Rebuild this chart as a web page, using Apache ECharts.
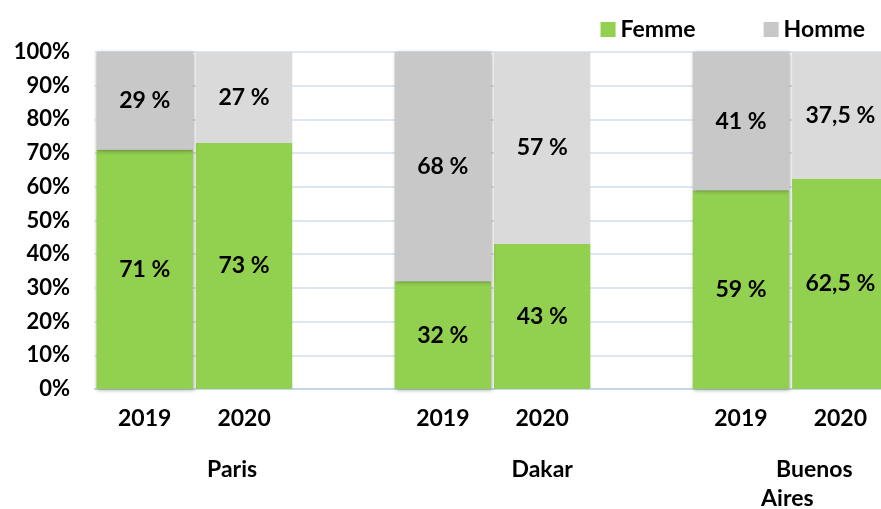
<!DOCTYPE html>
<html>
<head>
<meta charset="utf-8">
<script src="https://cdn.jsdelivr.net/npm/echarts@6/dist/echarts.min.js"></script>
<style>
  html, body { margin: 0; padding: 0; background: #fff; }
  #chart { width: 881px; height: 509px; }
</style>
</head>
<body>
<div id="chart"></div>
<script>
// 8 slots: two years per city, an empty slot between cities
const years = ['2019', '2020', '', '2019', '2020', '', '2019', '2020'];
const cities = ['', 'Paris', '', '', 'Dakar', '', '', 'Buenos\nAires'];
const femme = [71, 73, null, 32, 43, null, 59, 62.5];
const homme = [29, 27, null, 68, 57, null, 41, 37.5];
const yTicks = [0, 10, 20, 30, 40, 50, 60, 70, 80, 90, 100];

const FONT = 'Lato, "Open Sans", sans-serif';
const green = '#92d050';
const grayDark = '#c8c8c8';
const grayLight = '#dadada';

function pctLabel(v) {
  return String(v).replace('.', ',') + ' %';
}

function items(values, colorFn) {
  return values.map((v, i) => {
    if (v == null) return null;
    const is2019 = years[i] === '2019';
    return {
      value: v,
      itemStyle: {
        color: colorFn(i),
        shadowBlur: is2019 ? 4 : 0,
        shadowOffsetX: is2019 ? 1 : 0,
        shadowOffsetY: is2019 ? 1 : 0,
        shadowColor: 'rgba(0,0,0,0.35)'
      }
    };
  });
}

const labelStyle = {
  show: true,
  position: 'inside',
  color: '#000',
  fontFamily: FONT,
  fontWeight: 'bold',
  fontSize: 23,
  formatter: p => pctLabel(p.value)
};

const cityText = {color: '#000', fontWeight: 'bold', fontSize: 23, fontFamily: FONT, lineHeight: 29};

const cityData = cities.map(c => {
  if (c === 'Paris') return {value: c, textStyle: {padding: [0, 24, 0, 0]}};
  if (c.indexOf('\n') >= 0) return {value: c, textStyle: {padding: [0, 106, 0, 0]}};
  return c;
});

const chart = echarts.init(document.getElementById('chart'));
chart.setOption({
  animation: false,
  textStyle: {fontFamily: FONT},
  legend: {
    data: [
      {name: 'Femme', itemStyle: {color: green}},
      {name: 'Homme', itemStyle: {color: grayDark}}
    ],
    right: 11,
    top: 13,
    itemWidth: 15,
    itemHeight: 15,
    itemGap: 68,
    icon: 'rect',
    textStyle: {color: '#000', fontWeight: 'bold', fontSize: 23, fontFamily: FONT}
  },
  grid: {left: 95, right: -9, top: 52, bottom: 120, containLabel: false, outerBoundsMode: 'none'},
  xAxis: [
    {
      type: 'category',
      data: years,
      axisLine: {show: true, lineStyle: {color: '#c5d7ec', width: 2}},
      axisTick: {show: false},
      axisLabel: {color: '#000', fontWeight: 'bold', fontSize: 23, fontFamily: FONT, margin: 18, interval: 0}
    },
    {
      type: 'category',
      position: 'bottom',
      data: cityData,
      axisLine: {show: false},
      axisTick: {show: false},
      axisLabel: Object.assign({
        margin: 66,
        interval: 0,
        formatter: v => {
          const parts = v.split('\n');
          if (parts.length < 2) return v;
          return '{a|' + parts[0] + '}\n{b|' + parts[1] + '}';
        },
        rich: {
          a: Object.assign({padding: [0, 0, 0, 54]}, cityText),
          b: Object.assign({}, cityText)
        }
      }, cityText)
    }
  ],
  yAxis: {
    type: 'value',
    min: yTicks[0],
    max: yTicks[yTicks.length - 1],
    interval: 10,
    axisLine: {show: false},
    axisTick: {show: false},
    splitLine: {lineStyle: {color: '#dde7f2', width: 2}},
    axisLabel: {color: '#000', fontWeight: 'bold', fontSize: 22, fontFamily: FONT, margin: 25, formatter: '{value}%'}
  },
  series: [
    {
      name: 'Femme',
      type: 'bar',
      stack: 'total',
      barCategoryGap: '3%',
      data: items(femme, () => green),
      label: labelStyle
    },
    {
      name: 'Homme',
      type: 'bar',
      stack: 'total',
      barCategoryGap: '3%',
      data: items(homme, i => years[i] === '2019' ? grayDark : grayLight),
      label: labelStyle
    }
  ]
});
</script>
</body>
</html>
